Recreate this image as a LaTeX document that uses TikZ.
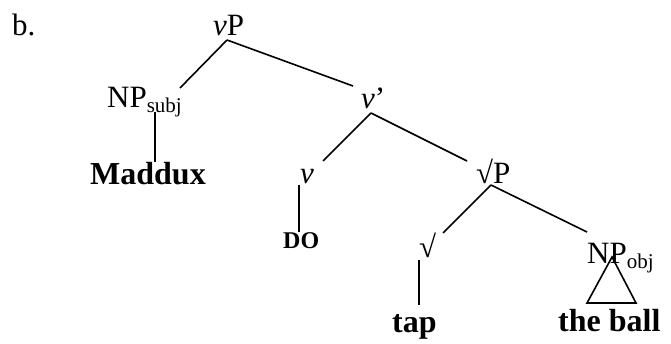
\documentclass[tikz,border=0pt]{standalone}
\usepackage{fontspec}
\setmainfont{Liberation Serif}
\newcommand{\lbl}{\fontsize{31}{34}\selectfont}
\newcommand{\blbl}{\fontsize{32}{35}\selectfont\bfseries}
\newcommand{\sbs}[1]{\raisebox{-5pt}{\fontsize{21}{21}\selectfont #1}}
\begin{document}
\begin{tikzpicture}[x=1pt,y=-1pt,
  lab/.style={anchor=base west,inner sep=0pt,font=\lbl},
  blab/.style={anchor=base west,inner sep=0pt,font=\blbl},
  branch/.style={line width=1.6pt}]
\useasboundingbox (0,0) rectangle (671,343);
% labels
\node[lab] (b) at (12,35) {b.};
\node[lab] (vP) at (213,35) {\textit{v}P};
\node[lab] (NPs) at (107,107) {NP\sbs{subj}};
\node[blab] (Maddux) at (90,184) {Maddux};
\node[lab] (vbar) at (361,108) {\textit{v}’};
\node[lab] (v) at (300,183) {\textit{v}};
\node[lab] (sqP) at (476,183) {√P};
\node[anchor=base west,inner sep=0pt,font=\fontsize{24}{26}\selectfont\bfseries] (DO) at (283,248) {DO};
\node[lab] (sq) at (419,257) {√};
\node[lab] (NPo) at (587,263) {NP\sbs{obj}};
\node[blab] (tap) at (392,332) {tap};
\node[blab] (ball) at (558,331) {the ball};
% attachment points
\coordinate (vPb) at (227,40);
\coordinate (NPst) at (180,88);
\coordinate (vbart) at (353,86);
\coordinate (NPsb) at (155,112);
\coordinate (Mt) at (155,162);
\coordinate (vbarb) at (371,113);
\coordinate (vt) at (323,161);
\coordinate (sqPt) at (467,161);
\coordinate (vb) at (299,185);
\coordinate (DOt) at (299,232);
\coordinate (sqPb) at (491,185);
\coordinate (sqt) at (443,233);
\coordinate (NPot) at (587,232);
\coordinate (sqb) at (419,260);
\coordinate (tapt) at (419,305);
\coordinate (tri1) at (612,257);
\coordinate (tri2) at (587,303);
\coordinate (tri3) at (636,303);
% branches
\draw[branch] (vPb) -- (NPst);
\draw[branch] (vPb) -- (vbart);
\draw[branch] (NPsb) -- (Mt);
\draw[branch] (vbarb) -- (vt);
\draw[branch] (vbarb) -- (sqPt);
\draw[branch] (vb) -- (DOt);
\draw[branch] (sqPb) -- (sqt);
\draw[branch] (sqPb) -- (NPot);
\draw[branch] (sqb) -- (tapt);
\draw[branch,line join=miter] (tri1) -- (tri2) -- (tri3) -- cycle;
\end{tikzpicture}
\end{document}
